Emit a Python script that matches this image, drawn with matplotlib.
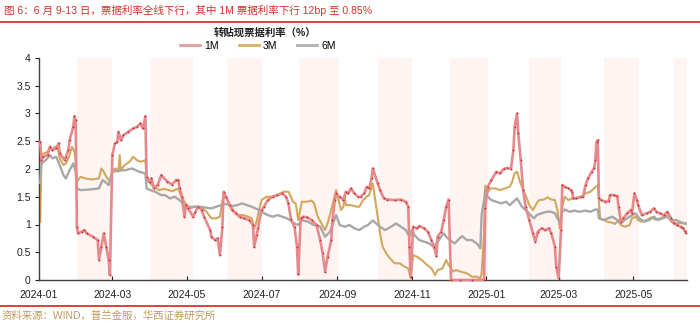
import pandas as pd
import matplotlib
matplotlib.use("Agg")
import matplotlib.pyplot as plt
import matplotlib.dates as mdates
from matplotlib.lines import Line2D
from matplotlib.ticker import FuncFormatter, MultipleLocator

plt.rcParams['font.family'] = ['Liberation Sans', 'Noto Sans CJK SC']

# 1M 转贴现利率
dates_1m = [
    '2024-01-02', '2024-01-03', '2024-01-04', '2024-01-08', '2024-01-10', '2024-01-12', '2024-01-15',
    '2024-01-17', '2024-01-18', '2024-01-22', '2024-01-23', '2024-01-25', '2024-01-26', '2024-01-29',
    '2024-01-30', '2024-01-31', '2024-02-01', '2024-02-02', '2024-02-05', '2024-02-07', '2024-02-09',
    '2024-02-14', '2024-02-18', '2024-02-19', '2024-02-21', '2024-02-23', '2024-02-25', '2024-02-27',
    '2024-02-28', '2024-03-01', '2024-03-03', '2024-03-05', '2024-03-06', '2024-03-08', '2024-03-10',
    '2024-03-14', '2024-03-18', '2024-03-21', '2024-03-24', '2024-03-26', '2024-03-28', '2024-03-29',
    '2024-04-01', '2024-04-02', '2024-04-04', '2024-04-07', '2024-04-10', '2024-04-15', '2024-04-19',
    '2024-04-22', '2024-04-24', '2024-04-25', '2024-04-27', '2024-04-29', '2024-04-30', '2024-05-02',
    '2024-05-06', '2024-05-08', '2024-05-10', '2024-05-13', '2024-05-15', '2024-05-20', '2024-05-21',
    '2024-05-24', '2024-05-26', '2024-05-28', '2024-05-30', '2024-05-31', '2024-06-02', '2024-06-05',
    '2024-06-07', '2024-06-10', '2024-06-13', '2024-06-17', '2024-06-21', '2024-06-24', '2024-06-25',
    '2024-06-27', '2024-06-28', '2024-07-01', '2024-07-03', '2024-07-06', '2024-07-10', '2024-07-14',
    '2024-07-18', '2024-07-21', '2024-07-23', '2024-07-25', '2024-07-28', '2024-07-30', '2024-07-31',
    '2024-08-02', '2024-08-04', '2024-08-07', '2024-08-11', '2024-08-15', '2024-08-18', '2024-08-20',
    '2024-08-22', '2024-08-24', '2024-08-27', '2024-08-28', '2024-08-30', '2024-08-31', '2024-09-03',
    '2024-09-06', '2024-09-08', '2024-09-10', '2024-09-12', '2024-09-15', '2024-09-18', '2024-09-20',
    '2024-09-23', '2024-09-25', '2024-09-27', '2024-09-29', '2024-09-30', '2024-10-04', '2024-10-06',
    '2024-10-09', '2024-10-12', '2024-10-18', '2024-10-23', '2024-10-27', '2024-10-29', '2024-10-30',
    '2024-10-31', '2024-11-02', '2024-11-05', '2024-11-07', '2024-11-11', '2024-11-14', '2024-11-17',
    '2024-11-19', '2024-11-21', '2024-11-22', '2024-11-25', '2024-11-27', '2024-11-29', '2024-12-01',
    '2024-12-03', '2024-12-10', '2024-12-20', '2024-12-30', '2024-12-31', '2025-01-02', '2025-01-05',
    '2025-01-09', '2025-01-12', '2025-01-15', '2025-01-18', '2025-01-21', '2025-01-23', '2025-01-24',
    '2025-01-26', '2025-01-27', '2025-01-29', '2025-01-31', '2025-02-02', '2025-02-05', '2025-02-08',
    '2025-02-10', '2025-02-12', '2025-02-15', '2025-02-18', '2025-02-21', '2025-02-23', '2025-02-26',
    '2025-02-27', '2025-03-01', '2025-03-03', '2025-03-04', '2025-03-06', '2025-03-09', '2025-03-11',
    '2025-03-12', '2025-03-13', '2025-03-15', '2025-03-19', '2025-03-21', '2025-03-23', '2025-03-25',
    '2025-03-28', '2025-03-30', '2025-03-31', '2025-04-01', '2025-04-02', '2025-04-03', '2025-04-05',
    '2025-04-08', '2025-04-11', '2025-04-12', '2025-04-15', '2025-04-18', '2025-04-19', '2025-04-21',
    '2025-04-23', '2025-04-26', '2025-04-29', '2025-04-30', '2025-05-02', '2025-05-04', '2025-05-05',
    '2025-05-08', '2025-05-12', '2025-05-15', '2025-05-18', '2025-05-20', '2025-05-23', '2025-05-26',
    '2025-05-29', '2025-06-01', '2025-06-03', '2025-06-06', '2025-06-09', '2025-06-11', '2025-06-12',
    '2025-06-13',
]
rate_1m = [
    2.49, 2.16, 2.22, 2.25, 2.40, 2.34, 2.37,
    2.46, 2.28, 2.16, 2.22, 2.34, 2.52, 2.76,
    2.95, 2.88, 0.96, 0.84, 0.87, 0.90, 0.84,
    0.78, 0.72, 0.36, 0.60, 0.84, 0.60, 0.36,
    0.09, 2.25, 2.46, 2.49, 2.67, 2.52, 2.61,
    2.67, 2.73, 2.76, 2.82, 2.73, 2.95, 1.86,
    1.77, 1.83, 1.65, 1.71, 1.89, 1.77, 1.72,
    1.80, 1.80, 1.65, 1.50, 1.14, 1.35, 1.29,
    1.14, 1.23, 1.32, 1.26, 1.14, 0.90, 0.78,
    0.72, 0.75, 0.45, 0.96, 1.59, 1.50, 1.35,
    1.26, 1.20, 1.14, 1.11, 1.08, 0.99, 0.60,
    0.81, 0.93, 1.26, 1.32, 1.44, 1.50, 1.53,
    1.56, 1.50, 1.38, 1.10, 0.95, 0.60, 0.10,
    1.11, 1.14, 1.13, 1.08, 0.99, 0.72, 0.48,
    0.15, 0.42, 0.72, 1.08, 1.44, 1.56, 1.50,
    1.44, 1.59, 1.56, 1.65, 1.56, 1.50, 1.50,
    1.56, 1.68, 1.65, 1.83, 2.01, 1.74, 1.62,
    1.47, 1.45, 1.44, 1.45, 1.41, 1.32, 0.60,
    0.05, 0.96, 0.93, 0.97, 0.93, 0.87, 0.72,
    0.60, 0.43, 0.78, 0.87, 1.08, 1.32, 1.45,
    0.00, 0.00, 0.00, 0.00, 1.30, 1.68, 1.80,
    1.95, 1.92, 2.00, 2.02, 2.00, 2.34, 2.76,
    3.00, 2.64, 2.16, 1.62, 1.32, 1.08, 0.84,
    0.69, 0.87, 0.93, 0.90, 0.93, 0.84, 0.60,
    0.24, 0.03, 0.90, 1.71, 1.68, 1.65, 1.62,
    1.59, 1.47, 1.47, 1.50, 1.50, 1.71, 1.83,
    1.95, 2.01, 2.16, 2.49, 2.52, 1.47, 1.44,
    1.41, 1.42, 1.53, 1.53, 1.51, 1.32, 1.05,
    1.11, 1.20, 1.26, 1.20, 1.56, 1.44, 1.35,
    1.17, 1.20, 1.23, 1.29, 1.23, 1.20, 1.17,
    1.23, 1.11, 1.02, 0.99, 0.96, 0.93, 0.89,
    0.85,
]

# 3M 转贴现利率
dates_3m = [
    '2024-01-02', '2024-01-03', '2024-01-05', '2024-01-08', '2024-01-10', '2024-01-12', '2024-01-14',
    '2024-01-16', '2024-01-18', '2024-01-21', '2024-01-23', '2024-01-25', '2024-01-26', '2024-01-28',
    '2024-01-30', '2024-01-31', '2024-02-01', '2024-02-04', '2024-02-08', '2024-02-13', '2024-02-19',
    '2024-02-21', '2024-02-23', '2024-02-25', '2024-02-27', '2024-02-29', '2024-03-01', '2024-03-04',
    '2024-03-06', '2024-03-07', '2024-03-08', '2024-03-11', '2024-03-15', '2024-03-18', '2024-03-21',
    '2024-03-24', '2024-03-28', '2024-03-29', '2024-04-01', '2024-04-03', '2024-04-08', '2024-04-12',
    '2024-04-16', '2024-04-19', '2024-04-24', '2024-04-26', '2024-04-29', '2024-05-02', '2024-05-06',
    '2024-05-10', '2024-05-14', '2024-05-17', '2024-05-21', '2024-05-25', '2024-05-28', '2024-05-30',
    '2024-06-01', '2024-06-03', '2024-06-06', '2024-06-09', '2024-06-12', '2024-06-16', '2024-06-20',
    '2024-06-23', '2024-06-25', '2024-06-27', '2024-06-29', '2024-07-01', '2024-07-05', '2024-07-09',
    '2024-07-14', '2024-07-19', '2024-07-23', '2024-07-25', '2024-07-27', '2024-07-29', '2024-07-31',
    '2024-08-03', '2024-08-07', '2024-08-11', '2024-08-13', '2024-08-16', '2024-08-19', '2024-08-22',
    '2024-08-24', '2024-08-27', '2024-08-29', '2024-08-31', '2024-09-02', '2024-09-04', '2024-09-06',
    '2024-09-07', '2024-09-08', '2024-09-12', '2024-09-17', '2024-09-19', '2024-09-22', '2024-09-25',
    '2024-09-27', '2024-09-30', '2024-10-04', '2024-10-06', '2024-10-08', '2024-10-11', '2024-10-14',
    '2024-10-18', '2024-10-22', '2024-10-26', '2024-10-29', '2024-10-31', '2024-11-02', '2024-11-05',
    '2024-11-09', '2024-11-13', '2024-11-17', '2024-11-20', '2024-11-22', '2024-11-26', '2024-11-29',
    '2024-12-01', '2024-12-03', '2024-12-05', '2024-12-07', '2024-12-11', '2024-12-16', '2024-12-20',
    '2024-12-24', '2024-12-27', '2024-12-28', '2024-12-30', '2024-12-31', '2025-01-02', '2025-01-04',
    '2025-01-08', '2025-01-12', '2025-01-16', '2025-01-20', '2025-01-22', '2025-01-24', '2025-01-26',
    '2025-01-28', '2025-01-31', '2025-02-03', '2025-02-05', '2025-02-08', '2025-02-11', '2025-02-13',
    '2025-02-17', '2025-02-20', '2025-02-23', '2025-02-26', '2025-02-28', '2025-03-02', '2025-03-04',
    '2025-03-06', '2025-03-09', '2025-03-12', '2025-03-16', '2025-03-20', '2025-03-23', '2025-03-27',
    '2025-03-31', '2025-04-02', '2025-04-04', '2025-04-07', '2025-04-10', '2025-04-14', '2025-04-16',
    '2025-04-19', '2025-04-21', '2025-04-24', '2025-04-28', '2025-04-30', '2025-05-03', '2025-05-05',
    '2025-05-08', '2025-05-12', '2025-05-16', '2025-05-19', '2025-05-23', '2025-05-27', '2025-05-30',
    '2025-06-01', '2025-06-05', '2025-06-09', '2025-06-13',
]
rate_3m = [
    1.05, 2.25, 2.28, 2.31, 2.41, 2.34, 2.40,
    2.40, 2.19, 2.07, 2.10, 2.19, 2.25, 2.40,
    2.31, 2.13, 1.77, 1.86, 1.83, 1.81, 1.83,
    2.01, 1.95, 1.86, 1.80, 1.83, 1.98, 2.01,
    1.95, 2.25, 1.98, 2.07, 2.13, 2.22, 2.16,
    2.13, 2.16, 1.80, 1.74, 1.70, 1.62, 1.64,
    1.62, 1.60, 1.65, 1.52, 1.41, 1.32, 1.32,
    1.32, 1.29, 1.23, 1.11, 1.11, 1.14, 1.44,
    1.53, 1.44, 1.32, 1.23, 1.17, 1.17, 1.14,
    1.11, 0.93, 1.05, 1.26, 1.44, 1.50, 1.50,
    1.53, 1.59, 1.59, 1.50, 1.40, 1.38, 1.08,
    1.41, 1.41, 1.43, 1.38, 1.14, 1.02, 0.90,
    1.02, 1.26, 1.44, 1.62, 1.44, 1.26, 1.32,
    1.53, 1.35, 1.35, 1.32, 1.32, 1.44, 1.50,
    1.53, 1.74, 1.14, 0.84, 0.60, 0.48, 0.39,
    0.30, 0.30, 0.24, 0.21, 0.03, 0.45, 0.42,
    0.36, 0.28, 0.21, 0.09, 0.18, 0.21, 0.36,
    0.27, 0.21, 0.15, 0.18, 0.15, 0.12, 0.06,
    0.06, 0.03, 0.12, 0.84, 1.70, 1.58, 1.65,
    1.65, 1.62, 1.65, 1.68, 1.77, 1.92, 1.95,
    1.80, 1.62, 1.47, 1.35, 1.26, 1.38, 1.44,
    1.45, 1.49, 1.45, 1.44, 1.26, 0.93, 1.32,
    1.50, 1.44, 1.47, 1.47, 1.50, 1.56, 1.59,
    1.67, 1.71, 1.11, 1.08, 1.05, 1.03, 1.01,
    1.08, 0.99, 0.96, 0.99, 1.11, 1.14, 1.08,
    1.05, 1.08, 1.13, 1.09, 1.11, 1.15, 1.17,
    1.05, 1.02, 1.03, 1.01,
]

# 6M 转贴现利率
dates_6m = [
    '2024-01-02', '2024-01-03', '2024-01-07', '2024-01-10', '2024-01-12', '2024-01-15', '2024-01-18',
    '2024-01-21', '2024-01-23', '2024-01-26', '2024-01-29', '2024-01-31', '2024-02-01', '2024-02-04',
    '2024-02-11', '2024-02-19', '2024-02-22', '2024-02-24', '2024-02-27', '2024-03-01', '2024-03-06',
    '2024-03-12', '2024-03-17', '2024-03-23', '2024-03-28', '2024-03-29', '2024-04-01', '2024-04-05',
    '2024-04-10', '2024-04-13', '2024-04-17', '2024-04-21', '2024-04-25', '2024-04-29', '2024-05-03',
    '2024-05-07', '2024-05-11', '2024-05-15', '2024-05-21', '2024-05-25', '2024-05-29', '2024-06-02',
    '2024-06-07', '2024-06-11', '2024-06-15', '2024-06-19', '2024-06-23', '2024-06-26', '2024-06-29',
    '2024-07-01', '2024-07-06', '2024-07-10', '2024-07-14', '2024-07-18', '2024-07-22', '2024-07-26',
    '2024-07-28', '2024-07-31', '2024-08-03', '2024-08-08', '2024-08-13', '2024-08-18', '2024-08-22',
    '2024-08-26', '2024-08-28', '2024-08-31', '2024-09-03', '2024-09-07', '2024-09-11', '2024-09-15',
    '2024-09-19', '2024-09-23', '2024-09-26', '2024-09-30', '2024-10-06', '2024-10-10', '2024-10-15',
    '2024-10-19', '2024-10-23', '2024-10-27', '2024-10-30', '2024-11-01', '2024-11-03', '2024-11-07',
    '2024-11-11', '2024-11-15', '2024-11-19', '2024-11-23', '2024-11-27', '2024-11-29', '2024-12-02',
    '2024-12-06', '2024-12-10', '2024-12-12', '2024-12-16', '2024-12-20', '2024-12-24', '2024-12-27',
    '2024-12-28', '2024-12-30', '2024-12-31', '2025-01-02', '2025-01-05', '2025-01-09', '2025-01-13',
    '2025-01-17', '2025-01-20', '2025-01-23', '2025-01-26', '2025-01-30', '2025-02-02', '2025-02-06',
    '2025-02-09', '2025-02-11', '2025-02-15', '2025-02-19', '2025-02-23', '2025-02-26', '2025-02-28',
    '2025-03-02', '2025-03-04', '2025-03-06', '2025-03-10', '2025-03-14', '2025-03-18', '2025-03-23',
    '2025-03-27', '2025-03-31', '2025-04-02', '2025-04-03', '2025-04-07', '2025-04-10', '2025-04-14',
    '2025-04-18', '2025-04-20', '2025-04-24', '2025-04-28', '2025-05-03', '2025-05-06', '2025-05-10',
    '2025-05-14', '2025-05-18', '2025-05-21', '2025-05-25', '2025-05-29', '2025-06-01', '2025-06-05',
    '2025-06-10', '2025-06-13',
]
rate_6m = [
    1.75, 2.10, 2.17, 2.25, 2.19, 2.22, 2.07,
    1.89, 1.83, 1.98, 2.10, 1.95, 1.65, 1.62,
    1.63, 1.65, 1.80, 1.77, 1.71, 1.95, 1.97,
    1.98, 2.01, 1.95, 1.92, 1.65, 1.62, 1.59,
    1.53, 1.53, 1.47, 1.50, 1.44, 1.35, 1.29,
    1.32, 1.32, 1.31, 1.29, 1.32, 1.35, 1.37,
    1.33, 1.35, 1.38, 1.35, 1.32, 1.29, 1.26,
    1.23, 1.17, 1.14, 1.17, 1.14, 1.11, 1.05,
    1.02, 0.99, 1.08, 1.05, 0.99, 0.96, 0.78,
    0.87, 0.99, 1.17, 0.99, 0.96, 0.99, 0.93,
    0.90, 0.96, 0.99, 1.07, 0.96, 0.90, 0.96,
    1.02, 0.96, 0.90, 0.78, 0.90, 0.81, 0.72,
    0.69, 0.66, 0.60, 0.72, 0.84, 0.78, 0.72,
    0.66, 0.75, 0.79, 0.72, 0.72, 0.66, 0.57,
    1.17, 1.44, 1.62, 1.50, 1.44, 1.41, 1.38,
    1.41, 1.35, 1.41, 1.47, 1.32, 1.26, 1.17,
    1.11, 1.17, 1.20, 1.23, 1.23, 1.20, 1.11,
    1.05, 1.23, 1.27, 1.23, 1.25, 1.23, 1.25,
    1.23, 1.27, 1.27, 1.11, 1.08, 1.11, 1.14,
    1.08, 1.02, 1.08, 1.14, 1.20, 1.11, 1.05,
    1.08, 1.14, 1.08, 1.11, 1.14, 1.07, 1.08,
    1.03, 1.02,
]

# 双月阴影区间
band_starts = ['2024-02-01', '2024-04-01', '2024-06-03', '2024-08-01', '2024-10-04',
               '2024-12-02', '2025-02-05', '2025-04-07', '2025-06-03']
band_ends = ['2024-03-01', '2024-05-06', '2024-07-01', '2024-09-02', '2024-11-01',
             '2025-01-02', '2025-03-03', '2025-05-06', '2025-06-14']

x_start, x_end = '2024-01-01', '2025-06-14'

W, H = 700, 324
fig = plt.figure(figsize=(W / 100, H / 100), dpi=100)
ax = fig.add_axes([39 / W, 44 / H, (687 - 39) / W, (280 - 58) / H])

for s, e in zip(band_starts, band_ends):
    ax.axvspan(pd.Timestamp(s), pd.Timestamp(e), color='#fef4f2', lw=0, zorder=0)

c1, c3, c6 = '#e5898d', '#d4a75c', '#a8a8a8'
ax.plot(pd.to_datetime(dates_3m), rate_3m, color=c3, lw=1.5, zorder=2, clip_on=False)
ax.plot(pd.to_datetime(dates_6m), rate_6m, color=c6, lw=1.7, zorder=3, clip_on=False)
ax.plot(pd.to_datetime(dates_1m), rate_1m, color=c1, lw=1.9, zorder=4, clip_on=False,
        marker='o', ms=1.3, mfc='#cf2b2b', mec='none')

ax.set_xlim(pd.Timestamp(x_start), pd.Timestamp(x_end))
ax.set_ylim(0, 4)
ax.yaxis.set_major_locator(MultipleLocator(0.5))
ax.yaxis.set_major_formatter(FuncFormatter(lambda v, p: f'{v:g}'))
ax.xaxis.set_major_locator(mdates.MonthLocator(bymonth=[1, 3, 5, 7, 9, 11]))
ax.xaxis.set_major_formatter(mdates.DateFormatter('%Y-%m'))

for side in ['top', 'right']:
    ax.spines[side].set_visible(False)
for side in ['left', 'bottom']:
    ax.spines[side].set_color('#404040')
    ax.spines[side].set_linewidth(1.0)
ax.tick_params(axis='x', direction='in', length=3, pad=7, labelsize=7.5, colors='#222222')
ax.tick_params(axis='y', direction='out', length=3, pad=3, labelsize=7.5, colors='#222222')

# 标题、图例与来源
fig.text(4 / W, 1 - 10 / H, '图 6：6 月 9-13 日，票据利率全线下行，其中 1M 票据利率下行 12bp 至 0.85%',
         color='#d5322c', fontsize=7.6, ha='left', va='center')
fig.add_artist(Line2D([0, 1], [1 - 22 / H, 1 - 22 / H], transform=fig.transFigure,
                      color='#d9342b', lw=1.3))
fig.text(265 / W, 1 - 33 / H, '转贴现票据利率（%）', fontsize=7.5, fontweight='bold',
         ha='center', va='center', color='#222222')

handles = [Line2D([], [], color='#ea9b9c', lw=2),
           Line2D([], [], color='#dcae62', lw=2),
           Line2D([], [], color='#b2b2b2', lw=2)]
fig.legend(handles, ['1M', '3M', '6M'], loc='center', bbox_to_anchor=(258 / W, 1 - 46 / H),
           ncol=3, frameon=False, fontsize=7.5, handlelength=1.9, handletextpad=0.4,
           columnspacing=1.9)

fig.add_artist(Line2D([0, 1], [1 - 306 / H, 1 - 306 / H], transform=fig.transFigure,
                      color='#d9342b', lw=1.3))
fig.text(2 / W, 1 - 316 / H, '资料来源：WIND，普兰金服，华西证券研究所', color='#c09a5c',
         fontsize=7.5, ha='left', va='center')

fig.savefig('out.png', dpi=100)
